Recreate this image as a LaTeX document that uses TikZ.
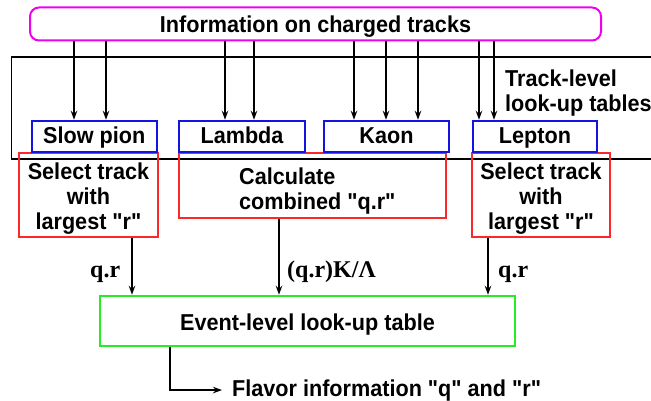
\documentclass[tikz,border=0pt]{standalone}
\usepackage{fontspec}
\setmainfont{Liberation Sans}[Ligatures=TeXOff, FakeStretch=0.94]
\newfontfamily\lblfont{Liberation Serif}
\usetikzlibrary{arrows.meta}
\definecolor{mymag}{RGB}{240,0,240}
\definecolor{myblue}{RGB}{20,20,225}
\definecolor{myred}{RGB}{250,40,40}
\definecolor{mygreen}{RGB}{40,235,40}
\begin{document}
\begin{tikzpicture}[x=1pt,y=-1pt,
  every node/.style={font=\fontsize{23}{25}\selectfont\bfseries, inner sep=0pt},
  lbl/.style={font=\lblfont\bfseries\fontsize{24}{28}\selectfont},
  arr/.style={draw=black, line width=1.5pt, -{Stealth[length=9pt,width=6.5pt]}},
  plain/.style={draw=black, line width=1.5pt},
  magbox/.style={draw=mymag, line width=2pt, rounded corners=9pt, text height=18pt, text depth=0pt},
  blubox/.style={draw=myblue, line width=2.5pt, minimum height=31pt, text height=16pt, text depth=1pt},
  redbox/.style={draw=myred, line width=1.5pt},
  grnbox/.style={draw=mygreen, line width=2.5pt, text height=18pt, text depth=0pt},
  boxtext/.style={align=center}]
\clip (0,0) rectangle (651,401);
\fill[white] (0,0) rectangle (651,401);

% track-level frame
\node[plain, minimum width=648.5pt, minimum height=102pt] (trk) at (335.75,108) {};
\node[anchor=north west, align=left] (tltext) at (505,70) {Track-level\\look-up tables};

% source
\node[magbox, minimum width=571pt, minimum height=33pt] (mag) at (315.5,24) {Information on charged tracks};

% red boxes
\node[redbox, minimum width=139pt, minimum height=84pt] (redL) at (88.5,195) {};
\node[redbox, minimum width=267pt, minimum height=65pt] (redM) at (312.5,185.5) {};
\node[redbox, minimum width=138pt, minimum height=84pt] (redR) at (541,195) {};
\node[boxtext, anchor=north] (tL) at (88.5,163) {Select track\\with\\largest "r"};
\node[align=left, anchor=north west] (tM) at (239,168) {Calculate\\combined "q.r"};
\node[boxtext, anchor=north] (tR) at (541,163) {Select track\\with\\largest "r"};

% blue boxes
\node[blubox, minimum width=125pt] (sp) at (94.25,136.5) {Slow pion};
\node[blubox, minimum width=126pt] (lam) at (242,136.5) {Lambda};
\node[blubox, minimum width=125pt] (kao) at (386.5,136.5) {Kaon};
\node[blubox, minimum width=124pt] (lep) at (535,136.5) {Lepton};

% green box
\node[grnbox, minimum width=415pt, minimum height=50pt] (grn) at (307.5,321) {Event-level look-up table};

% column coordinates
\coordinate (a1) at (74,0);
\coordinate (a2) at (106,0);
\coordinate (a3) at (225,0);
\coordinate (a4) at (254,0);
\coordinate (a5) at (354,0);
\coordinate (a6) at (386,0);
\coordinate (a7) at (418,0);
\coordinate (a8) at (479,0);
\coordinate (a9) at (494,0);
\coordinate (b1) at (132,0);
\coordinate (b2) at (279,0);
\coordinate (b3) at (488,0);
\coordinate (cf) at (170,0);

% arrows from source
\draw[arr] (a1 |- mag.south) -- (a1 |- sp.north);
\draw[arr] (a2 |- mag.south) -- (a2 |- sp.north);
\draw[arr] (a3 |- mag.south) -- (a3 |- lam.north);
\draw[arr] (a4 |- mag.south) -- (a4 |- lam.north);
\draw[arr] (a5 |- mag.south) -- (a5 |- kao.north);
\draw[arr] (a6 |- mag.south) -- (a6 |- kao.north);
\draw[arr] (a7 |- mag.south) -- (a7 |- kao.north);
\draw[arr] (a8 |- mag.south) -- (a8 |- lep.north);
\draw[arr] (a9 |- mag.south) -- (a9 |- lep.north);

% arrows to event-level table
\draw[arr] (b1 |- redL.south) -- (b1 |- grn.north);
\draw[arr] (b2 |- redM.south) -- (b2 |- grn.north);
\draw[arr] (b3 |- redR.south) -- (b3 |- grn.north);

\node[lbl, anchor=base west] (lq1) at (90,277) {q.r};
\node[lbl, anchor=base west] (lq2) at (287,277) {(q.r)K/Λ};
\node[lbl, anchor=base west] (lq3) at (498,277) {q.r};

% output
\node[anchor=base west] (flav) at (232,396) {Flavor information "q" and "r"};
\draw[arr] (cf |- grn.south) |- ([xshift=-10pt]flav.west);
\end{tikzpicture}
\end{document}
